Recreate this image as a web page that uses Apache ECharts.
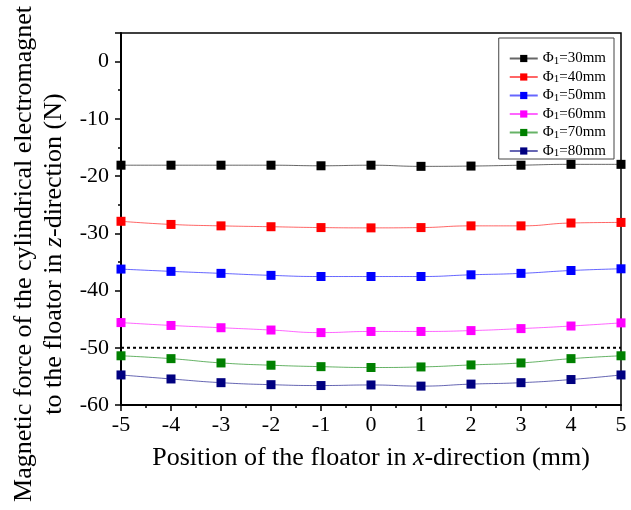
<!DOCTYPE html>
<html><head><meta charset="utf-8">
<script src="https://cdn.jsdelivr.net/npm/echarts@6/dist/echarts.min.js"></script>
<style>html,body{margin:0;padding:0;background:#fff}#c{width:631px;height:510px}</style>
</head><body><div id="c"></div>
<script>
const xPos = [-5,-4,-3,-2,-1,0,1,2,3,4,5];
const names = ['30','40','50','60','70','80'];
const colors = ['#000000','#ff0000','#0000ff','#ff00ff','#008000','#000080'];
const phi30 = [-18.1,-18.1,-18.1,-18.1,-18.2,-18.1,-18.3,-18.25,-18.1,-17.95,-17.95];
const phi40 = [-27.9,-28.45,-28.7,-28.85,-29.0,-29.05,-29.0,-28.7,-28.7,-28.2,-28.1];
const phi50 = [-36.25,-36.65,-37.0,-37.35,-37.55,-37.55,-37.55,-37.25,-37.0,-36.5,-36.2];
const phi60 = [-45.6,-46.1,-46.5,-46.9,-47.35,-47.15,-47.15,-47.0,-46.65,-46.2,-45.65];
const phi70 = [-51.4,-51.9,-52.65,-53.05,-53.3,-53.45,-53.35,-53.0,-52.65,-51.9,-51.4];
const phi80 = [-54.75,-55.45,-56.1,-56.45,-56.6,-56.5,-56.7,-56.35,-56.1,-55.55,-54.75];
const refLine = -50;
const allData = [phi30,phi40,phi50,phi60,phi70,phi80];
const FONT = 'Liberation Serif';

const series = allData.map((d,i)=>({
  name: 'Φ{s|1}=' + names[i] + 'mm',
  type: 'line',
  smooth: true,
  symbol: 'rect',
  symbolSize: 9,
  showAllSymbol: true,
  data: xPos.map((x,j)=>[x,d[j]]),
  itemStyle: {color: colors[i]},
  lineStyle: {width: 1, color: colors[i], opacity: 0.6},
  clip: false,
  z: 3
}));
series.push({
  type: 'line', name: 'ref', symbol: 'none',
  data: [[xPos[0], refLine],[xPos[xPos.length-1], refLine]],
  lineStyle: {color: '#000', width: 2, type: [3,3]},
  z: 2, silent: true
});

const chart = echarts.init(document.getElementById('c'));
chart.setOption({
  animation: false,
  backgroundColor: '#fff',
  grid: {left: 121, right: 10, top: 33, bottom: 105, containLabel: false, outerBoundsMode: 'none',
    show: true, borderColor: '#000', borderWidth: 1.5, backgroundColor: 'transparent'},
  legend: {
    data: series.slice(0,6).map(s=>s.name),
    orient: 'vertical',
    right: 17, top: 38,
    itemWidth: 28, itemHeight: 9, itemGap: 3,
    padding: [13,8,0,10],
    borderColor: '#444', borderWidth: 1,
    textStyle: {fontFamily: FONT, fontSize: 15, color: '#000',
      rich: {s: {fontFamily: FONT, fontSize: 11, color: '#000', verticalAlign: 'bottom', padding: [5,0,0,0]}}}
  },
  xAxis: {
    type: 'value', min: -5, max: 5, interval: 1,
    name: 'Position of the floator in {i|x}-direction (mm)',
    nameLocation: 'middle', nameGap: 40,
    nameTextStyle: {fontFamily: FONT, fontSize: 26, color: '#000',
      rich: {i: {fontFamily: FONT, fontSize: 26, fontStyle: 'italic', color: '#000'}}},
    axisLine: {onZero: false, lineStyle: {color: '#000', width: 2}},
    axisTick: {length: 6, lineStyle: {color: '#000', width: 1.5}},
    minorTick: {show: true, splitNumber: 2, length: 3, lineStyle: {color: '#000', width: 1.5}},
    splitLine: {show: false},
    axisLabel: {fontFamily: FONT, fontSize: 22, color: '#000', margin: 9}
  },
  yAxis: {
    type: 'value', min: -60, max: 5, interval: 10,
    name: 'Magnetic force of the cylindrical electromagnet\nto the floator in {i|z}-direction (N)',
    nameLocation: 'middle', nameGap: 51, nameRotate: 90,
    nameTextStyle: {fontFamily: FONT, fontSize: 26, color: '#000', lineHeight: 30, padding: [0,70,0,0],
      rich: {i: {fontFamily: FONT, fontSize: 26, fontStyle: 'italic', color: '#000', lineHeight: 30}}},
    axisLine: {onZero: false, lineStyle: {color: '#000', width: 2}},
    axisTick: {length: 6, lineStyle: {color: '#000', width: 1.5}},
    minorTick: {show: true, splitNumber: 2, length: 3, lineStyle: {color: '#000', width: 1.5}},
    splitLine: {show: false},
    axisLabel: {fontFamily: FONT, fontSize: 22, color: '#000', margin: 12, showMaxLabel: false}
  },
  series: series
});
</script></body></html>
